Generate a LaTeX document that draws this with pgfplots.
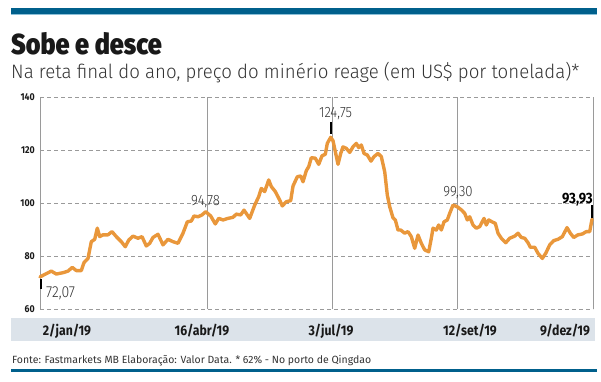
\documentclass[border=0pt]{standalone}
\usepackage{pgfplots}
\pgfplotsset{compat=1.18}
\usepackage{fontspec}
\setmainfont{Fira Sans}
\newfontfamily\titlefont{Fira Sans Black}[FakeStretch=0.87]
\newfontfamily\lightfont{Fira Sans Light}[FakeStretch=0.88]
\newfontfamily\sublight{Fira Sans Light}[FakeStretch=0.96]
\newfontfamily\cond{Fira Sans}[FakeStretch=0.88]
\definecolor{barblue}{HTML}{00608C}
\definecolor{lightbar}{HTML}{8CC0D8}
\definecolor{band}{HTML}{DCE3EA}
\definecolor{curve}{HTML}{E9973B}
\definecolor{txt}{HTML}{333333}
\definecolor{gridc}{HTML}{9A9A9A}
\begin{document}
\begin{tikzpicture}[x=1bp,y=1bp]
\path[use as bounding box] (0,0) rectangle (601,381);
\fill[barblue] (11,367) rectangle (597,373);
\fill[lightbar] (11,365.8) rectangle (597,367);
\fill[band] (11,40) rectangle (595,63);
\fill[barblue] (11,9) rectangle (597,12);
\node[anchor=base west,inner sep=0,text=black!90] at (11,327) {\fontsize{29}{29}\selectfont\titlefont Sobe e desce};
\node[anchor=base west,inner sep=0,text=txt] at (11,303) {\fontsize{19.5}{19.5}\selectfont\sublight Na reta final do ano, preço do minério reage (em US\$ por tonelada)*};
\node[anchor=base west,inner sep=0,text=txt] at (12,18) {\fontsize{10.5}{10.5}\selectfont Fonte: Fastmarkets MB Elaboração: Valor Data. * 62\% - No porto de Qingdao};
\begin{axis}[
  at={(40bp,72bp)}, anchor=south west,
  scale only axis, width=553bp, height=212bp,
  xmin=0, xmax=553, ymin=60, ymax=140,
  axis line style={draw=none},
  major tick length=0pt,
  ytick={60,80,100,120,140},
  ymajorgrids,
  y grid style={gridc, line width=0.8bp, dash pattern=on 4bp off 3bp},
  xtick={27,162,291,430,525},
  xticklabels={2/jan/19,16/abr/19,3/jul/19,12/set/19,9/dez/19},
  xticklabel style={anchor=base, yshift=-26bp, inner sep=0pt, text=black!90, font=\fontsize{14}{14}\selectfont\cond\bfseries},
  yticklabel style={anchor=east, inner sep=0pt, xshift=-5bp, text=black!90, font=\fontsize{10}{10}\selectfont\cond\bfseries},
  /pgf/number format/assume math mode=true,
  extra x ticks={0,167,292,417,553},
  extra x tick labels={,,,,},
  extra x tick style={grid=major, major grid style={gridc, line width=0.9bp, solid}},
  clip=false,
]
\addplot[curve, line width=3.4bp, line join=round, line cap=round] table {
x y
0 72.1
3 72.7
11.3 74.3
16.3 73.2
23 73.7
28 74.3
32.3 75.7
36.3 74.5
41.3 74.5
44 77.5
48 79.1
51.3 85.4
54.7 86.3
57.3 90.5
59.7 87.3
63 88
68 88
72 89.2
76.3 87.3
81.3 85.4
85.3 83.5
88.7 86
93 87.5
98 86.7
102 87.3
106.3 83.8
109.7 84.8
113 87
118 88.2
123 84.2
128 86.3
133 85.4
138 84.8
143 88.6
147.3 92.9
151.3 93.2
154 95.1
158 94.8
162 95.5
165.7 96.7
170.7 95.1
175.3 92.1
178.7 94.2
183 93.6
188 94.2
193 94.6
196.3 95.8
200.7 95.5
204 97.3
209.7 94.2
214.7 99.2
218.7 102.4
221.3 105.5
224.7 104.3
228.7 108.7
231.3 106.2
235.3 104.3
239.7 101.1
242.3 98.9
246.3 100.5
250.7 100.9
253 106.4
257.3 109.9
260.7 110.2
263 108
266.3 112.2
268.7 113.7
271.3 117.1
275.3 116.9
278.7 114.6
282 117.8
285.3 118.4
287.3 122.5
290.7 124.8
293 123.5
295.3 119.4
298 114.6
300.7 118.7
303 121.2
306.3 120.6
309.7 119.1
313 121.2
316.3 122.5
318.7 120.9
321.3 121.9
324 118.7
327.3 118.1
331 115.8
334 117.5
338 118.7
341.3 117.5
344.7 111.8
347.3 103
349.7 98.6
353 94.4
355.3 93.6
358 89.8
360.7 89.8
364.7 88.6
368 89.2
371.3 87.3
374.7 82.9
378 87.9
381.3 84.8
384.7 82.3
388.7 81.6
391.3 86.7
393 90.5
396.3 89.8
398.7 91.7
401.3 89.8
404 92.9
407.3 93.6
409.7 96.1
413 99.2
415.3 98.9
418 98.4
421.3 97.4
424.7 96.1
427.3 93.6
429.7 94.8
433 91.7
436.3 90.5
439.7 91.1
444 94.2
446.3 91.7
448.7 93.6
452 92.9
455.3 92.3
458 88.6
461.3 86.7
465.7 85
469.7 86.7
474.7 87.5
478 88.6
481.3 87
484.7 86.7
488 85
490.3 83.3
494.7 83.3
498 81
502.3 79.1
505.7 81
509.7 84.2
513.7 85.8
518 86.3
522.3 87.3
527 90.7
530.3 88.6
533.7 87
538 88
542.3 88.3
546.3 89.2
549.7 89.2
552 93.9
};
\draw[black, line width=1.2bp] (axis cs:1,71.2) -- (axis cs:1,67.6);
\draw[black, line width=1.2bp] (axis cs:291,130.6) -- (axis cs:291,126.2);
\draw[black, line width=1.2bp] (axis cs:552,99.2) -- (axis cs:552,94.4);
\node[anchor=base west, inner sep=0, text=txt] at (axis cs:6,64.5) {\fontsize{16}{16}\selectfont\lightfont 72,07};
\node[anchor=base, inner sep=0, text=txt] at (axis cs:165.5,99.2) {\fontsize{15}{15}\selectfont\lightfont 94,78};
\node[anchor=base, inner sep=0, text=txt] at (axis cs:295.5,132.1) {\fontsize{15}{15}\selectfont\lightfont 124,75};
\node[anchor=base, inner sep=0, text=txt] at (axis cs:418,102.3) {\fontsize{15}{15}\selectfont\lightfont 99,30};
\node[anchor=base east, inner sep=0, text=black] at (axis cs:553,100) {\fontsize{15}{15}\selectfont\cond\bfseries 93,93};
\end{axis}
\end{tikzpicture}
\end{document}
